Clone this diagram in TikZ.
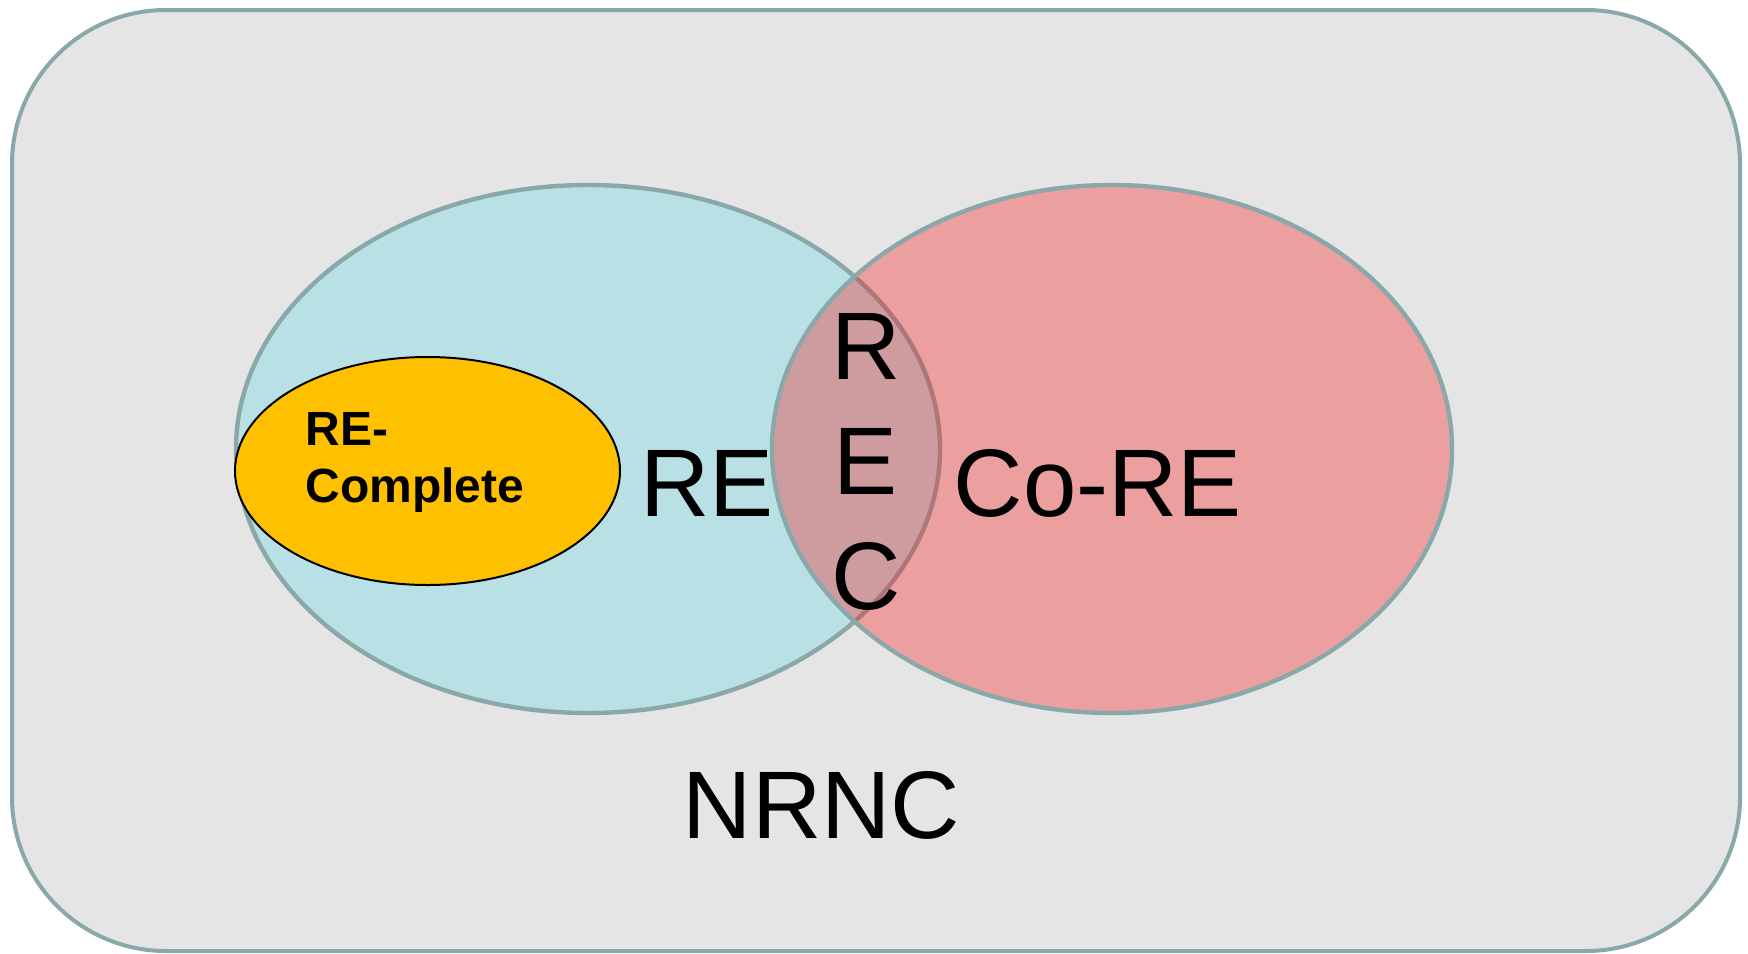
\documentclass[tikz,border=0pt]{standalone}
\usepackage{fontspec}
\setmainfont{Liberation Sans}
\usetikzlibrary{shapes.geometric}
\definecolor{bggray}{HTML}{E5E5E5}
\definecolor{edgeteal}{HTML}{8AA8AA}
\definecolor{reblue}{HTML}{B9E0E4}
\definecolor{cored}{HTML}{FB0D0D}
\definecolor{gold}{HTML}{FFC000}
\tikzset{
  setellipse/.style={ellipse, draw=edgeteal, line width=2.2pt, inner sep=0pt},
  bigtext/.style={font=\fontsize{48}{57.5}\selectfont, inner sep=0pt, text=black},
}
\begin{document}
\begin{tikzpicture}[x=0.5pt,y=-0.5pt]
\useasboundingbox (0,0) rectangle (1748,953);
\node[draw=edgeteal, fill=bggray, line width=2pt, rounded corners=77pt,
      minimum width=864pt, minimum height=470.5pt, inner sep=0pt] (nrncbox) at (876,480.5) {};
\node[setellipse, fill=reblue, minimum width=352pt, minimum height=264pt] (re) at (588,449) {};
\node[setellipse, fill=cored, fill opacity=0.32, minimum width=340pt, minimum height=264pt] (core) at (1112,449) {};
\node[ellipse, draw=black, line width=1pt, fill=gold, inner sep=0pt,
      minimum width=192.5pt, minimum height=114pt] (recomplete) at (427.5,471) {};
\node[anchor=north west, align=left, inner sep=0pt,
      font=\bfseries\fontsize{24}{28.5}\selectfont] (rectext) at (305,411.7) {RE-\\Complete};
\node[bigtext, anchor=base] (retext) at (706.7,516.7) {RE};
\node[bigtext, anchor=base] (coretext) at (1098,516.7) {Co-RE};
\node[bigtext, anchor=base] (nrnctext) at (821.5,838) {NRNC};
\node[bigtext, anchor=center, align=center] (rectext2) at (866,462) {R\\E\\C};
\end{tikzpicture}
\end{document}
